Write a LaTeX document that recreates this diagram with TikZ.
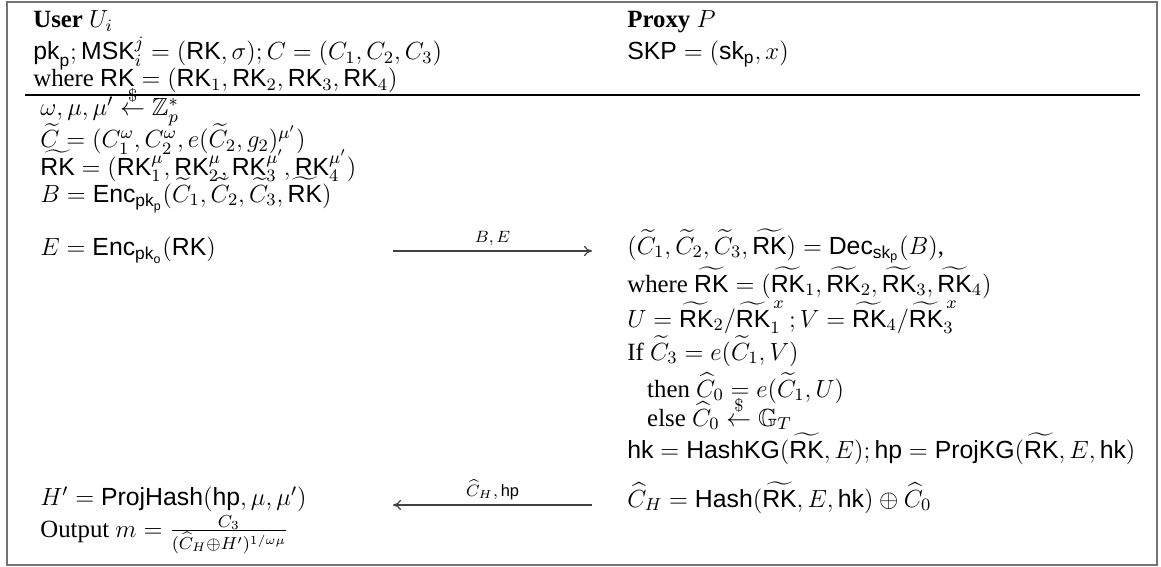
\RequirePackage{fix-cm}
\documentclass[tikz,border=0pt]{standalone}
\usepackage{amsmath,amssymb}
\usepackage[no-math]{fontspec}
\setmainfont{Liberation Serif}
\setsansfont{Liberation Sans}
\usetikzlibrary{arrows.meta}
\newcommand{\sff}[1]{\textsf{#1}}
\newcommand{\rnd}{\stackrel{\$}{\leftarrow}}
\tikzset{
  txt/.style={anchor=base west, inner sep=0pt, font=\fontsize{12.4}{14}\selectfont},
  msg/.style={draw=black!75, line width=0.6pt, -{To[length=4pt,width=5pt]}},
  lbl/.style={inner sep=0pt, anchor=base, font=\fontsize{8.2}{9}\selectfont},
  frame/.style={draw=black!55, line width=0.7pt},
  hrule/.style={draw=black, line width=0.8pt}
}
\begin{document}
\begin{tikzpicture}[x=0.5pt, y=-0.5pt]
\useasboundingbox (0,0) rectangle (1161,567);
\draw[frame] (7,2) rectangle (1157,565);
\draw[hrule] (25,95) -- (1140,95);
% header
\node[txt] (hu1) at (33,28) {\textbf{User} $U_i$};
\node[txt] (hu2) at (33,60) {$\sff{pk}_{\sff{p}}; \sff{MSK}_i^j = (\sff{RK},\sigma); C = (C_1,C_2,C_3)$};
\node[txt] (hu3) at (33,87) {where $\sff{RK} = (\sff{RK}_1,\sff{RK}_2,\sff{RK}_3,\sff{RK}_4)$};
\node[txt] (hp1) at (627,28) {\textbf{Proxy} $P$};
\node[txt] (hp2) at (627,60) {$\sff{SKP} = (\sff{sk}_{\sff{p}}, x)$};
% user body
\node[txt] (u1) at (40,116) {$\omega,\mu,\mu' \rnd \mathbb{Z}_p^*$};
\node[txt] (u2) at (40,148) {$\widetilde{C} = (C_1^{\omega}, C_2^{\omega}, e(\widetilde{C}_2, g_2)^{\mu'})$};
\node[txt] (u3) at (40,175) {$\widetilde{\sff{RK}} = (\sff{RK}_1^{\mu}, \sff{RK}_2^{\mu}, \sff{RK}_3^{\mu'}, \sff{RK}_4^{\mu'})$};
\node[txt] (u4) at (40,202) {$B = \sff{Enc}_{\sff{pk}_{\sff{p}}}(\widetilde{C}_1, \widetilde{C}_2, \widetilde{C}_3, \widetilde{\sff{RK}})$};
\node[txt] (u5) at (40,255) {$E = \sff{Enc}_{\sff{pk}_{\sff{o}}}(\sff{RK})$};
\node[txt] (u6) at (40,505) {$H' = \sff{ProjHash}(\sff{hp}, \mu, \mu')$};
\node[txt] (u7) at (40,537) {Output $m = \frac{C_3}{(\widehat{C}_H \oplus H')^{1/\omega\mu}}$};
% proxy body
\node[txt] (p1) at (627,254) {$(\widetilde{C}_1, \widetilde{C}_2, \widetilde{C}_3, \widetilde{\sff{RK}}) = \sff{Dec}_{\sff{sk}_{\sff{p}}}(B)$,};
\node[txt] (p2) at (627,292) {where $\widetilde{\sff{RK}} = (\widetilde{\sff{RK}}_1, \widetilde{\sff{RK}}_2, \widetilde{\sff{RK}}_3, \widetilde{\sff{RK}}_4)$};
\node[txt] (p3) at (627,327) {$U = \widetilde{\sff{RK}}_2/\widetilde{\sff{RK}}_1^{\,x}\,; V = \widetilde{\sff{RK}}_4/\widetilde{\sff{RK}}_3^{\,x}$};
\node[txt] (p4) at (627,360) {If $\widetilde{C}_3 = e(\widetilde{C}_1, V)$};
\node[txt] (p5) at (627,397) {\hspace{0.8em}then $\widehat{C}_0 = e(\widetilde{C}_1, U)$};
\node[txt] (p6) at (627,426) {\hspace{0.8em}else $\widehat{C}_0 \rnd \mathbb{G}_T$};
\node[txt] (p7) at (627,458) {$\sff{hk} = \sff{HashKG}(\widetilde{\sff{RK}}, E); \sff{hp} = \sff{ProjKG}(\widetilde{\sff{RK}}, E, \sff{hk})$};
\node[txt] (p8) at (627,507) {$\widehat{C}_H = \sff{Hash}(\widetilde{\sff{RK}}, E, \sff{hk}) \oplus \widehat{C}_0$};
% messages
\coordinate (a1s) at (393,251);
\coordinate (a1e) at (592,251);
\coordinate (a2s) at (592,505);
\coordinate (a2e) at (393,505);
\draw[msg] (a1s) -- node[lbl, yshift=4.5pt] {$B,E$} (a1e);
\draw[msg] (a2s) -- node[lbl, yshift=4.5pt] {$\widehat{C}_H,\sff{hp}$} (a2e);
\end{tikzpicture}
\end{document}
